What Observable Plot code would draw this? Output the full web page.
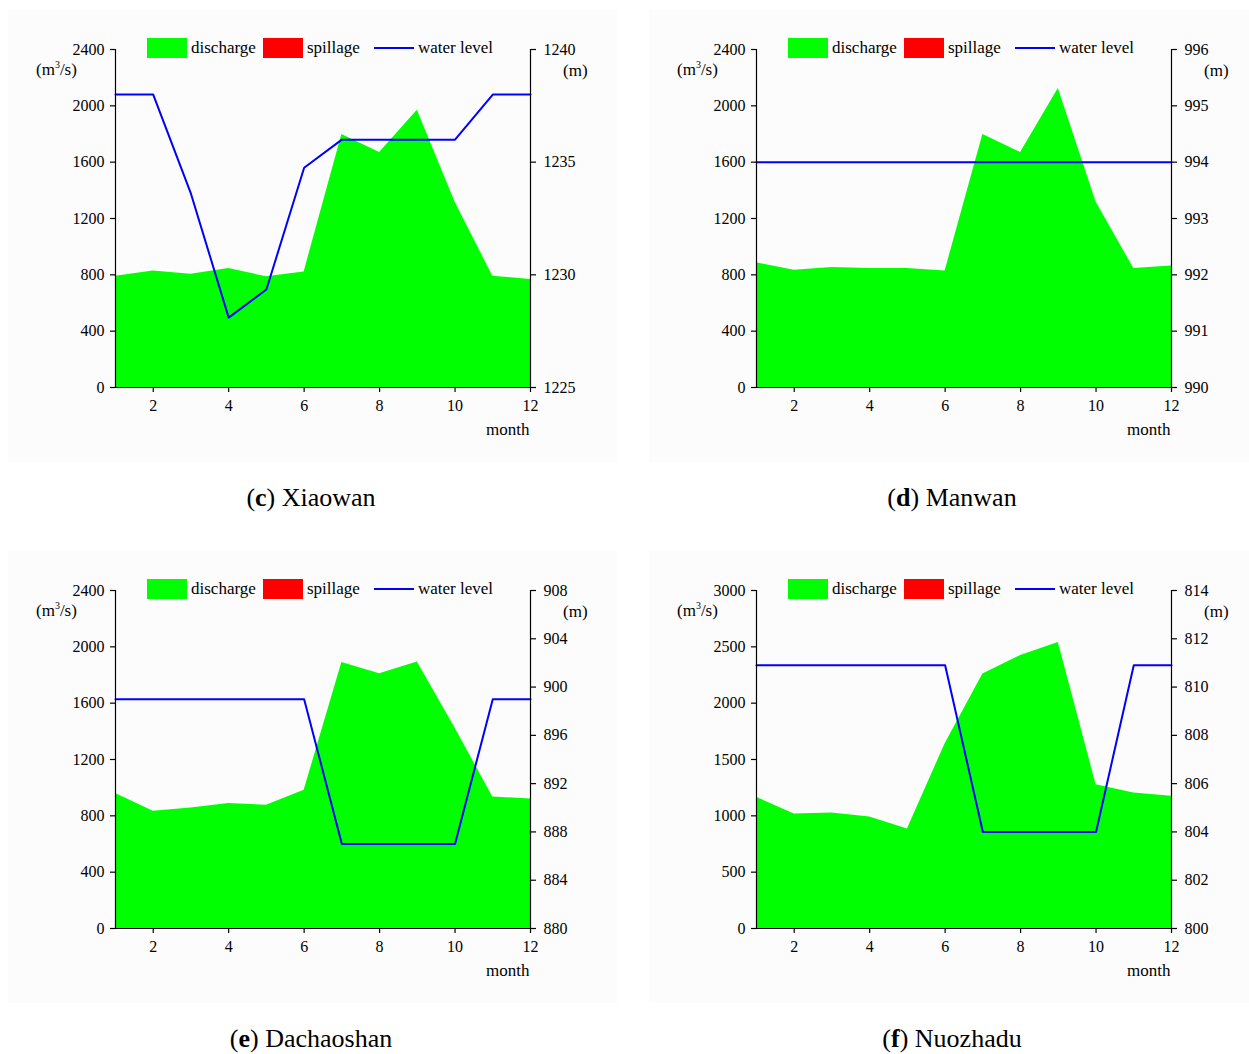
<!DOCTYPE html>
<html>
<head>
<meta charset="utf-8">
<script src="https://cdn.jsdelivr.net/npm/d3@7"></script>
<script src="https://cdn.jsdelivr.net/npm/@observablehq/plot@0.6"></script>
<style>
  html, body { margin: 0; padding: 0; background: #ffffff; }
  body { width: 1249px; height: 1054px; position: relative; overflow: hidden; font-family: "Liberation Serif", "Times New Roman", serif; color: #000; }
  .panel { position: absolute; width: 620px; height: 520px; }
  .bg { position: absolute; left: 8px; top: 10px; width: 609px; height: 452px; background: #fcfcfc; }
  .chart { position: absolute; left: 0; top: 0; }
  .chart text { font-family: "Liberation Serif", "Times New Roman", serif !important; font-size: 16px; fill: #000; }
  .txt { position: absolute; white-space: nowrap; font-size: 17px; line-height: 18px; }
  .sw { position: absolute; height: 20px; width: 40px; }
  .ln { position: absolute; height: 2px; width: 40px; background: #0000ff; }
  .cap { position: absolute; left: 0; width: 622px; text-align: center; font-size: 26px; line-height: 28px; white-space: nowrap; }
</style>
</head>
<body>
<script>
// ---- data ----
const months = [1, 2, 3, 4, 5, 6, 7, 8, 9, 10, 11, 12];
const monthTicks = [2, 4, 6, 8, 10, 12];

const xiaowanDischarge = [790, 828, 805, 845, 786, 821, 1796, 1669, 1969, 1318, 790, 767];
const xiaowanLevel = [1238, 1238, 1233.6, 1228.1, 1229.35, 1234.75, 1236, 1236, 1236, 1236, 1238, 1238];

const manwanDischarge = [885, 833, 852, 845, 845, 828, 1796, 1669, 2123, 1318, 845, 862];
const manwanLevel = [994, 994, 994, 994, 994, 994, 994, 994, 994, 994, 994, 994];

const dachaoshanDischarge = [958, 832, 856, 887, 875, 981, 1889, 1809, 1892, 1423, 934, 920];
const dachaoshanLevel = [899, 899, 899, 899, 899, 899, 887, 887, 887, 887, 899, 899];

const nuozhaduDischarge = [1165, 1017, 1026, 990, 884, 1640, 2258, 2424, 2539, 1277, 1203, 1173];
const nuozhaduLevel = [810.9, 810.9, 810.9, 810.9, 810.9, 810.9, 804, 804, 804, 804, 810.9, 810.9];

const flowTicks2400 = [0, 400, 800, 1200, 1600, 2000, 2400];
const flowTicks3000 = [0, 500, 1000, 1500, 2000, 2500, 3000];
const xiaowanLevelTicks = [1225, 1230, 1235, 1240];
const manwanLevelTicks = [990, 991, 992, 993, 994, 995, 996];
const dachaoshanLevelTicks = [880, 884, 888, 892, 896, 900, 904, 908];
const nuozhaduLevelTicks = [800, 802, 804, 806, 808, 810, 812, 814];

const legendLabels = ["discharge", "spillage", "water level"];
const seriesColors = ["#00ff00", "#ff0000", "#0000ff"];

const panels = [
  { letter: "c", name: "Xiaowan", discharge: xiaowanDischarge, level: xiaowanLevel, flowTicks: flowTicks2400, levelTicks: xiaowanLevelTicks, left: 0, top: 0 },
  { letter: "d", name: "Manwan", discharge: manwanDischarge, level: manwanLevel, flowTicks: flowTicks2400, levelTicks: manwanLevelTicks, left: 641, top: 0 },
  { letter: "e", name: "Dachaoshan", discharge: dachaoshanDischarge, level: dachaoshanLevel, flowTicks: flowTicks2400, levelTicks: dachaoshanLevelTicks, left: 0, top: 541 },
  { letter: "f", name: "Nuozhadu", discharge: nuozhaduDischarge, level: nuozhaduLevel, flowTicks: flowTicks3000, levelTicks: nuozhaduLevelTicks, left: 641, top: 541 }
];

const serif = "'Liberation Serif', 'Times New Roman', serif";

function el(tag, cls, style, html) {
  const e = document.createElement(tag);
  if (cls) e.className = cls;
  if (style) Object.assign(e.style, style);
  if (html != null) e.innerHTML = html;
  return e;
}

for (const p of panels) {
  const wrap = el("div", "panel", { left: p.left + "px", top: p.top + "px" });
  wrap.appendChild(el("div", "bg"));

  const yMax = d3.max(p.flowTicks);
  const lvl = d3.scaleLinear().domain(d3.extent(p.levelTicks)).range([0, yMax]);
  const rows = months.map((m, i) => ({ month: m, q: p.discharge[i], wl: lvl(p.level[i]) }));

  const chart = Plot.plot({
    width: 620,
    height: 470,
    marginLeft: 115,
    marginRight: 90,
    marginTop: 49,
    marginBottom: 83,
    style: { background: "transparent", fontFamily: serif, fontSize: "16px", color: "#000" },
    x: { domain: [1, 12] },
    y: { domain: [0, yMax] },
    marks: [
      Plot.areaY(rows, { x: "month", y: "q", fill: seriesColors[0], fillOpacity: 1 }),
      Plot.line(rows, { x: "month", y: "wl", stroke: seriesColors[2], strokeWidth: 2 }),
      Plot.ruleX([1, 12], { stroke: "#000", strokeWidth: 1.2 }),
      Plot.ruleY([0], { stroke: "#000", strokeWidth: 1.2 }),
      Plot.axisX(monthTicks, { tickSize: 5, tickPadding: 7, label: null, tickFormat: d => String(d), strokeWidth: 1.2, fontFamily: serif, fontSize: 16 }),
      Plot.axisY(p.flowTicks, { anchor: "left", tickSize: 5, tickPadding: 6, label: null, tickFormat: d => String(d), strokeWidth: 1.2, fontFamily: serif, fontSize: 16 }),
      Plot.axisY(p.levelTicks.map(v => lvl(v)), { anchor: "right", tickSize: 5, tickPadding: 8, label: null, tickFormat: d => String(Math.round(lvl.invert(d))), strokeWidth: 1.2, fontFamily: serif, fontSize: 16 })
    ]
  });
  chart.classList.add("chart");
  wrap.appendChild(chart);

  // legend
  wrap.appendChild(el("div", "sw", { left: "147px", top: "38px", background: seriesColors[0] }));
  wrap.appendChild(el("div", "txt", { left: "191px", top: "39px" }, legendLabels[0]));
  wrap.appendChild(el("div", "sw", { left: "263px", top: "38px", background: seriesColors[1] }));
  wrap.appendChild(el("div", "txt", { left: "307px", top: "39px" }, legendLabels[1]));
  wrap.appendChild(el("div", "ln", { left: "374px", top: "47px", background: seriesColors[2] }));
  wrap.appendChild(el("div", "txt", { left: "418px", top: "39px" }, legendLabels[2]));

  // units and axis title
  wrap.appendChild(el("div", "txt", { left: "36px", top: "61px" }, "(m<sup style=\"font-size:10px;vertical-align:7px;line-height:0\">3</sup>/s)"));
  wrap.appendChild(el("div", "txt", { left: "563px", top: "62px" }, "(m)"));
  wrap.appendChild(el("div", "txt", { left: "486px", top: "421px" }, "month"));

  // caption
  wrap.appendChild(el("div", "cap", { top: "484px" }, "(<b>" + p.letter + "</b>) " + p.name));

  document.body.appendChild(wrap);
}
</script>
</body>
</html>
